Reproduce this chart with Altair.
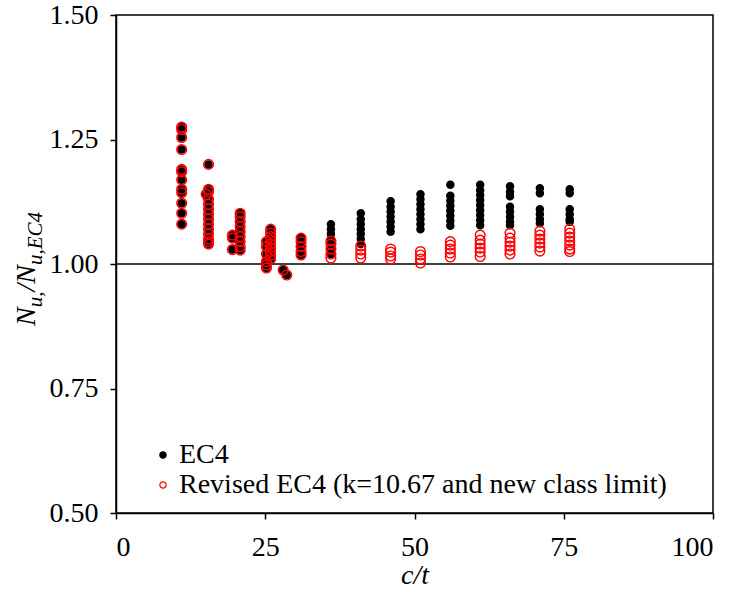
import altair as alt
import pandas as pd

# c/t positions of the specimen groups
cluster_ct = [11.0, 15.5, 15.1, 19.5, 20.8, 25.2, 25.9, 28.0, 28.6, 31.0,
              36.0, 41.0, 46.0, 51.0, 56.0, 61.0, 66.0, 71.0, 76.0]

# EC4 ratios per group
ec4_vals = [
    [1.275, 1.27, 1.254, 1.23, 1.19, 1.185, 1.169, 1.15, 1.143, 1.122, 1.102, 1.08],
    [1.20, 1.15, 1.145, 1.13, 1.12, 1.11, 1.10, 1.09, 1.08, 1.07, 1.06, 1.05, 1.045, 1.04],
    [1.14],
    [1.058, 1.052, 1.029],
    [1.102, 1.095, 1.085, 1.075, 1.065, 1.055, 1.045, 1.035, 1.028],
    [1.045, 1.035, 1.02, 1.005, 0.998, 0.992],
    [1.07, 1.062, 1.055, 1.048, 1.04, 1.032, 1.025, 1.018, 1.01],
    [0.988],
    [0.978],
    [1.052, 1.045, 1.035, 1.025, 1.018],
    [1.08, 1.07, 1.06, 1.05, 1.04, 1.03, 1.02],
    [1.102, 1.09, 1.08, 1.07, 1.06, 1.05, 1.04],
    [1.126, 1.115, 1.105, 1.095, 1.085, 1.075, 1.065],
    [1.14, 1.13, 1.12, 1.11, 1.10, 1.09, 1.08, 1.07],
    [1.159, 1.137, 1.127, 1.117, 1.107, 1.097, 1.087, 1.077],
    [1.159, 1.148, 1.138, 1.128, 1.118, 1.108, 1.098, 1.088, 1.078],
    [1.156, 1.145, 1.136, 1.115, 1.105, 1.095, 1.085, 1.078],
    [1.152, 1.142, 1.11, 1.10, 1.09, 1.082],
    [1.15, 1.142, 1.11, 1.10, 1.09, 1.085],
]

# Revised EC4 ratios per group
rev_vals = [
    [1.275, 1.27, 1.254, 1.23, 1.19, 1.185, 1.169, 1.15, 1.143, 1.122, 1.102, 1.08],
    [1.20, 1.15, 1.145, 1.13, 1.12, 1.11, 1.10, 1.09, 1.08, 1.07, 1.06, 1.05, 1.045, 1.04],
    [1.14],
    [1.058, 1.052, 1.029],
    [1.102, 1.095, 1.085, 1.075, 1.065, 1.055, 1.045, 1.035, 1.028],
    [1.045, 1.035, 1.02, 1.005, 0.998, 0.992],
    [1.07, 1.062, 1.055, 1.048, 1.04, 1.032, 1.025, 1.018, 1.01],
    [0.988],
    [0.978],
    [1.052, 1.045, 1.035, 1.025, 1.018],
    [1.046, 1.04, 1.03, 1.02, 1.012],
    [1.036, 1.028, 1.02, 1.012],
    [1.03, 1.024, 1.016, 1.01],
    [1.025, 1.018, 1.01, 1.002],
    [1.045, 1.038, 1.03, 1.022, 1.014],
    [1.058, 1.048, 1.04, 1.032, 1.024, 1.015],
    [1.062, 1.052, 1.044, 1.036, 1.028, 1.02],
    [1.066, 1.058, 1.05, 1.042, 1.034, 1.026],
    [1.07, 1.062, 1.054, 1.046, 1.038, 1.03, 1.025],
]

series_names = ["EC4", "Revised EC4 (k=10.67 and new class limit)"]
x_ticks = [0, 25, 50, 75, 100]
y_ticks = [0.50, 0.75, 1.00, 1.25, 1.50]

rows = []
for ct, vals in zip(cluster_ct, ec4_vals):
    for v in vals:
        rows.append({"ct": ct, "ratio": v, "series": series_names[0], "sz": "a", "k": 0})
for ct, vals in zip(cluster_ct, rev_vals):
    for v in vals:
        rows.append({"ct": ct, "ratio": v, "series": series_names[1], "sz": "b", "k": 1})
df = pd.DataFrame(rows)

FONT = "Liberation Serif"
FS = 28

xs = alt.Scale(domain=[0, 100], nice=False, zero=False)
ys = alt.Scale(domain=[0.5, 1.5], nice=False, zero=False)

leg = alt.Legend(title=None, orient="none", legendX=33, legendY=426,
                 symbolSize=40, symbolStrokeWidth=1.2,
                 labelFont=FONT, labelFontSize=FS, labelColor="black",
                 labelOffset=2, rowPadding=2, padding=0, labelLimit=700)

points = alt.Chart(df).mark_point(shape="circle", strokeWidth=1.4, opacity=1).encode(
    x=alt.X("ct:Q", scale=xs,
            axis=alt.Axis(values=x_ticks, title="c/t", titleFontStyle="italic",
                          titleFont=FONT, titleFontSize=FS, titleFontWeight="normal",
                          titlePadding=0)),
    y=alt.Y("ratio:Q", scale=ys,
            axis=alt.Axis(values=y_ticks, format=".2f", title=None, labelPadding=12)),
    stroke=alt.Stroke("series:N",
                      scale=alt.Scale(domain=series_names, range=["black", "red"]),
                      legend=leg),
    fill=alt.Fill("series:N",
                  scale=alt.Scale(domain=series_names, range=["black", "transparent"]),
                  legend=leg),
    size=alt.Size("sz:N", scale=alt.Scale(domain=["a", "b"], range=[50, 95]), legend=None),
    order=alt.Order("k:Q"),
)

ref_line = alt.Chart(pd.DataFrame({"v": [1.0]})).mark_rule(color="black", strokeWidth=1.6).encode(
    y=alt.Y("v:Q", scale=ys)
)

# y-axis title built from pieces (main text + subscripts)
title_pieces = [
    ("N", 28, -81, 311),
    ("u,", 21, -74, 292.3),
    ("/N", 28, -81, 276.6),
    ("u,EC4", 21, -74, 250.1),
]
title_layers = []
for txt, fs, px, py in title_pieces:
    title_layers.append(
        alt.Chart(pd.DataFrame({"t": [txt]})).mark_text(
            angle=270, align="left", baseline="alphabetic", font=FONT,
            fontSize=fs, fontStyle="italic", color="black"
        ).encode(text="t:N", x=alt.value(px), y=alt.value(py))
    )

chart = alt.layer(ref_line, points, *title_layers).properties(
    width=597, height=498,
    background="white",
    autosize=alt.AutoSizeParams(type="none"),
    padding={"left": 116, "top": 15, "right": 26, "bottom": 79},
).configure_view(
    stroke="black", strokeWidth=1.5
).configure_axis(
    grid=False, domainColor="black", domainWidth=1.5, tickColor="black", tickWidth=1.5,
    tickSize=6, labelFont=FONT, labelFontSize=FS, labelColor="black", labelPadding=14,
    titleColor="black"
)

chart.save("out.html", embed_options={"renderer": "svg", "actions": False})
